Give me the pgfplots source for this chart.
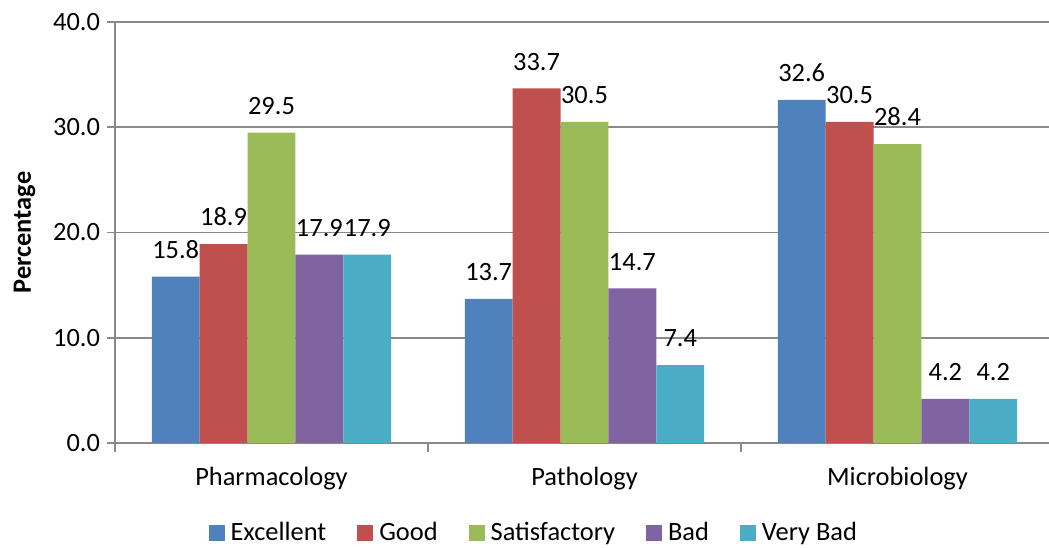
\documentclass[border=0pt]{standalone}
\usepackage{pgfplots}
\pgfplotsset{compat=1.18}
\usepackage{fontspec}
\setmainfont{Carlito}

\definecolor{cExc}{HTML}{4F81BD}
\definecolor{cGood}{HTML}{C0504D}
\definecolor{cSat}{HTML}{9BBB59}
\definecolor{cBad}{HTML}{8064A2}
\definecolor{cVBad}{HTML}{4BACC6}
\definecolor{gridgray}{HTML}{898989}

\newcommand{\chartfont}{\fontsize{13.2}{15}\selectfont}

\begin{document}
\begin{tikzpicture}
\begin{axis}[
  scale only axis,
  width=469.5pt, height=210.5pt,
  ybar=0pt, bar width=0.153,
  xmin=-0.5, xmax=2.5,
  ymin=0, ymax=40,
  xtick={0,1,2},
  xticklabels={Pharmacology, Pathology, Microbiology},
  minor xtick={-0.5,0.5,1.5,2.5},
  major x tick style={draw=none},
  minor x tick style={gridgray, line width=1pt},
  minor tick length=4.5pt,
  ytick={0,10,...,40},
  yticklabel={\pgfmathprintnumber[fixed,fixed zerofill,precision=1]{\tick}},
  /pgf/number format/assume math mode=true,
  ymajorgrids=true,
  grid style={gridgray, line width=0.8pt},
  axis x line*=bottom, axis y line*=left,
  axis line style={gridgray, line width=1pt, -},
  y tick style={gridgray, line width=0.8pt},
  tick align=outside,
  major tick length=4pt,
  tick label style={font=\chartfont, black},
  xticklabel style={yshift=-4.5pt},
  ylabel={\bfseries Percentage},
  ylabel style={font=\chartfont, yshift=2pt},
  nodes near coords,
  nodes near coords style={font=\chartfont, black, yshift=5.5pt,
    /pgf/number format/fixed, /pgf/number format/fixed zerofill,
    /pgf/number format/precision=1, /pgf/number format/assume math mode=true},
  legend style={at={(0.447,-0.214)}, anchor=center, draw=none,
    legend columns=-1, font=\chartfont,
    /tikz/every odd column/.append style={column sep=1pt},
    /tikz/every even column/.append style={column sep=13.5pt}},
  legend image code/.code={\fill[#1] (0pt,-4pt) rectangle (8pt,4pt);},
]
\addplot[fill=cExc, draw=none] coordinates {(0,15.8) (1,13.7) (2,32.6)};
\addplot[fill=cGood, draw=none] coordinates {(0,18.9) (1,33.7) (2,30.5)};
\addplot[fill=cSat, draw=none] coordinates {(0,29.5) (1,30.5) (2,28.4)};
\addplot[fill=cBad, draw=none] coordinates {(0,17.9) (1,14.7) (2,4.2)};
\addplot[fill=cVBad, draw=none] coordinates {(0,17.9) (1,7.4) (2,4.2)};
\legend{Excellent, Good, Satisfactory, Bad, Very Bad}
\end{axis}
\pgfresetboundingbox
\path[use as bounding box] ([xshift=-57.5pt,yshift=-52.5pt]current axis.south west)
  rectangle ([xshift=-2.5pt,yshift=11pt]current axis.north east);
\end{tikzpicture}
\end{document}
